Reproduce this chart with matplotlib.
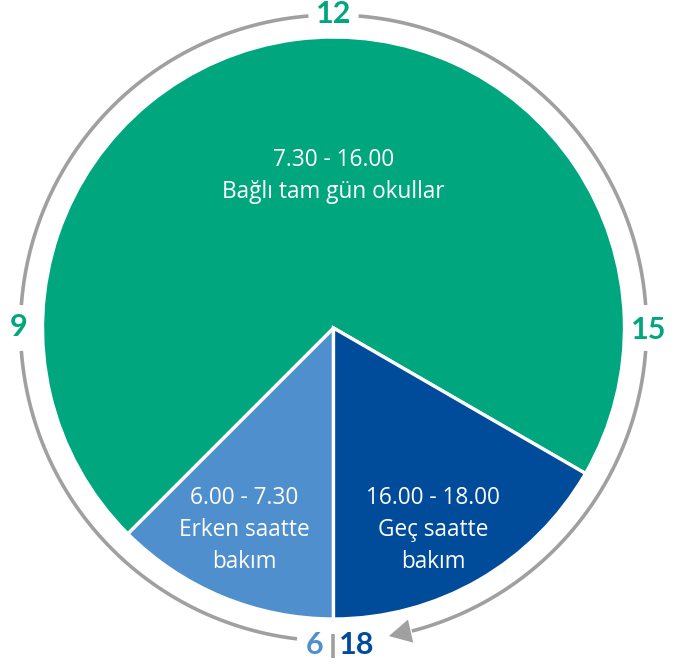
import numpy as np
import matplotlib
matplotlib.use("Agg")
import matplotlib.pyplot as plt

# Data
segments = ["6.00 - 7.30\nErken saatte\nbakım",
            "7.30 - 16.00\nBağlı tam gün okullar",
            "16.00 - 18.00\nGeç saatte\nbakım"]
hours = [1.5, 8.5, 2.0]
colors = ["#4F8FCD", "#00A67E", "#004C9B"]
clock_labels = ["9", "12", "15"]

W, H = 689, 666
fig = plt.figure(figsize=(W / 100, H / 100), dpi=100)
ax = fig.add_axes([0, 0, 1, 1])
ax.set_xlim(0, W)
ax.set_ylim(0, H)
ax.set_aspect("equal")
ax.axis("off")

cx, cy = 333.5, H - 328
R = 291
Rring = 313

wedges, _ = ax.pie(hours, colors=colors, startangle=-90, counterclock=False,
                   center=(cx, cy), radius=R,
                   wedgeprops=dict(edgecolor="white", linewidth=2.4))
ax.set_xlim(0, W)
ax.set_ylim(0, H)

font = "Open Sans"
txt_kw = dict(color="white", fontsize=16.3, ha="center", va="center",
              family=font, linespacing=1.47)
ax.text(cx, H - 176, segments[1], **txt_kw)
ax.text(244, H - 530, segments[0], **txt_kw)
ax.text(433, H - 530, segments[2], **txt_kw)

# Ring (clock)
gray = "#A0A0A0"
def ring(a0, a1):
    t = np.radians(np.linspace(a0, a1, 200))
    ax.plot(cx + Rring * np.cos(t), cy + Rring * np.sin(t), color=gray,
            lw=2.6, solid_capstyle="butt")

ring(-90 - 6.7, -180 + 4.2)
ring(-180 - 4.2, -270 + 4.6)
ring(-270 - 4.6, -360 + 4.2)
ring(-360 - 4.2, -450 + 14.5)
# arrow head
t_end = np.radians(-450 + 10.2)
t_start = np.radians(-450 + 15.5)
ax.annotate("", xy=(cx + Rring * np.cos(t_end), cy + Rring * np.sin(t_end)),
            xytext=(cx + Rring * np.cos(t_start), cy + Rring * np.sin(t_start)),
            arrowprops=dict(arrowstyle="-|>,head_length=1.6,head_width=0.85",
                            color=gray, lw=0, shrinkA=0, shrinkB=0))

num_kw = dict(fontsize=22, fontweight="bold", family="Lato", ha="center", va="center")
ax.text(cx - Rring - 2, cy + 1, clock_labels[0], color="#00A67E", **num_kw)
ax.text(cx, cy + Rring + 1, clock_labels[1], color="#00A67E", **num_kw)
ax.text(cx + Rring + 2, cy - 2, clock_labels[2], color="#00A67E", **num_kw)
ax.text(323, H - 645, "6", color="#4F8FCD", **{**num_kw, "ha": "right"})
ax.text(339, H - 645, "18", color="#004C9B", **{**num_kw, "ha": "left"})
ax.plot([333, 333], [H - 634, H - 658], color=gray, lw=2.6, solid_capstyle="butt")

fig.savefig("out.png", dpi=100)
